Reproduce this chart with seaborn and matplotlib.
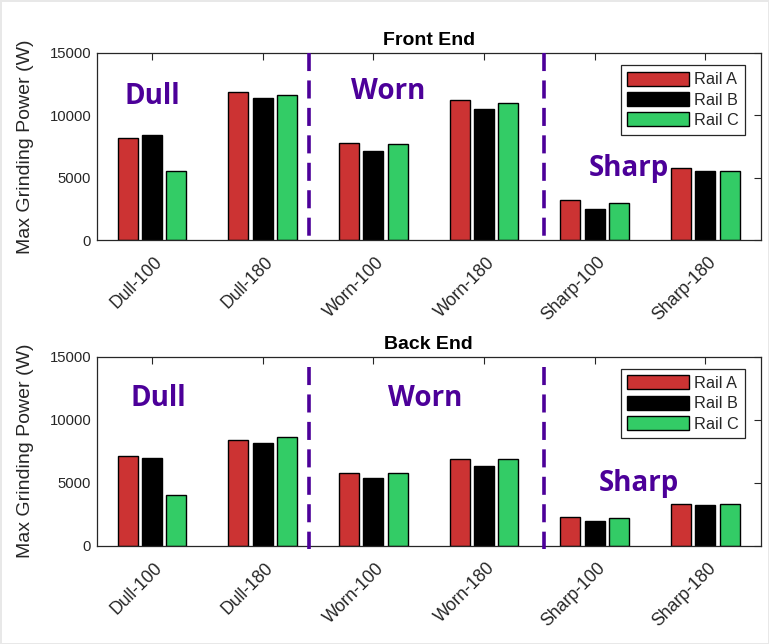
import numpy as np
import pandas as pd
import matplotlib
matplotlib.use("Agg")
import matplotlib.pyplot as plt
import matplotlib.transforms as mtransforms
from matplotlib.patches import Patch
import seaborn as sns

# ---------------- data ----------------
categories = ["Dull-100", "Dull-180", "Worn-100", "Worn-180", "Sharp-100", "Sharp-180"]
rails = ["Rail A", "Rail B", "Rail C"]

front_a = [8150, 11850, 7750, 11200, 3200, 5775]
front_b = [8450, 11400, 7150, 10500, 2450, 5500]
front_c = [5550, 11650, 7725, 10975, 2950, 5550]

back_a = [7100, 8375, 5750, 6900, 2250, 3325]
back_b = [6925, 8175, 5375, 6350, 1950, 3250]
back_c = [4000, 8650, 5750, 6900, 2225, 3325]

titles = ["Front End", "Back End"]
group_labels = ["Dull", "Worn", "Sharp"]
y_ticks = [0, 5000, 10000, 15000]

# ---------------- style ----------------
sns.set_theme(style="white")
plt.rcParams["font.family"] = ["Liberation Sans", "DejaVu Sans"]

colors = ["#CC3333", "#000000", "#33CC66"]
purple = "#4C0099"
axcol = "#262626"


def long_df(a, b, c):
    rows = []
    for r, vals in zip(rails, [a, b, c]):
        for cat, v in zip(categories, vals):
            rows.append({"Category": cat, "Rail": r, "Power": v})
    return pd.DataFrame(rows)


dfs = [long_df(front_a, front_b, front_c), long_df(back_a, back_b, back_c)]

fig = plt.figure(figsize=(7.69, 6.44), dpi=100)
fig.patch.set_facecolor("white")
fig.patch.set_edgecolor("#e8e8e8")
fig.patch.set_linewidth(2)

W, H = 769.0, 644.0
ax_boxes = [
    (96.7, 53.0, 760.7, 240.0),
    (96.7, 356.7, 760.7, 545.7),
]

# annotation placements (x in category units, y in data units)
label_pos = [
    [(0.0, 11500), (2.13, 11950), (4.31, 5750)],
    [(0.06, 11700), (2.47, 11700), (4.40, 4900)],
]
sep_x = [1.42, 3.54]
sep_y = [(15000, 0), (14150, -300)]

for i, (df, (l, t, r, b)) in enumerate(zip(dfs, ax_boxes)):
    ax = fig.add_axes([l / W, 1 - b / H, (r - l) / W, (b - t) / H])
    sns.barplot(
        data=df, x="Category", y="Power", hue="Rail",
        order=categories, hue_order=rails, palette=colors,
        width=0.66, gap=0.18, edgecolor="black", linewidth=1.0,
        legend=False, ax=ax, errorbar=None, saturation=1,
    )
    ax.set_xlim(-0.5, 5.5)
    ax.set_ylim(0, 15000)
    ax.set_yticks(y_ticks)
    ax.set_yticklabels([str(v) for v in y_ticks])
    ax.set_xlabel("")
    ax.set_ylabel("Max Grinding Power (W)", fontsize=14, color=axcol)
    ax.yaxis.set_label_coords(-0.094, 0.5)
    ax.set_title(titles[i], fontsize=14, fontweight="bold", color="black", pad=5.5)

    for s in ax.spines.values():
        s.set_visible(True)
        s.set_color(axcol)
        s.set_linewidth(0.9)
    ax.tick_params(axis="both", direction="in", length=5, width=0.8, color=axcol,
                   top=True, right=True, labelcolor=axcol)
    ax.tick_params(axis="y", labelsize=10.7, pad=4)
    ax.tick_params(axis="x", labelsize=12.7, pad=10)
    offset = mtransforms.ScaledTranslation(2 / 100, 0, fig.dpi_scale_trans)
    for lab in ax.get_xticklabels():
        lab.set_rotation(45)
        lab.set_ha("right")
        lab.set_va("top")
        lab.set_rotation_mode("anchor")
        lab.set_transform(lab.get_transform() + offset)

    # separators between groups
    for xs in sep_x:
        ax.plot([xs, xs], list(sep_y[i]), color=purple, lw=2.6,
                linestyle=(0, (5, 2.6)), clip_on=False, zorder=5)

    # group labels
    for txt, (xx, yy) in zip(group_labels, label_pos[i]):
        ax.text(xx, yy, txt, color=purple, fontsize=20, fontweight="bold",
                family=["Open Sans", "DejaVu Sans"], ha="center", va="center")

    handles = [Patch(facecolor=c, edgecolor="black", linewidth=1.0) for c in colors]
    leg = ax.legend(handles, rails, loc="upper right",
                    bbox_to_anchor=(1 - 15.7 / 664, 1 - 12 / 187),
                    borderaxespad=0, fontsize=11.7, handlelength=3.8,
                    handleheight=0.95, labelspacing=0.3, handletextpad=0.3,
                    borderpad=0.4, fancybox=False, framealpha=1)
    leg.get_frame().set_edgecolor(axcol)
    leg.get_frame().set_linewidth(0.9)
    for tx in leg.get_texts():
        tx.set_color(axcol)

fig.savefig("out.png", dpi=100, facecolor=fig.get_facecolor(), edgecolor=fig.get_edgecolor())
